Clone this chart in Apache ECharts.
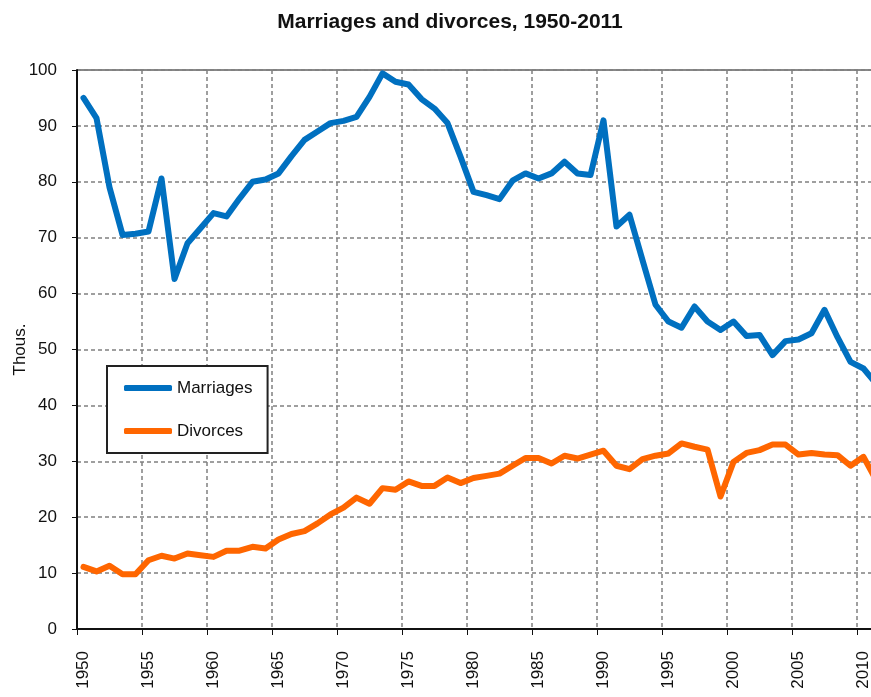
<!DOCTYPE html>
<html>
<head>
<meta charset="utf-8">
<title>Marriages and divorces, 1950-2011</title>
<script src="https://cdn.jsdelivr.net/npm/echarts@6/dist/echarts.min.js"></script>
<style>
  html, body { margin: 0; padding: 0; background: #fff; overflow: hidden; }
  #wrap { width: 871px; height: 697px; overflow: hidden; }
  #chart { width: 883px; height: 697px; }
</style>
</head>
<body>
<div id="wrap"><div id="chart"></div></div>
<script>
// years 1950..2011
var years = [];
for (var y = 1950; y <= 2011; y++) years.push(String(y));

// thousands
var marriages = [
  95.0, 91.4, 79.0, 70.5, 70.7, 71.1, 80.6, 62.6, 69.0, 71.7,
  74.4, 73.8, 77.0, 80.0, 80.4, 81.5, 84.6, 87.5, 89.0, 90.5,
  90.9, 91.6, 95.2, 99.4, 97.9, 97.4, 94.8, 93.1, 90.5, 84.5,
  78.2, 77.6, 76.9, 80.2, 81.5, 80.6, 81.5, 83.6, 81.5, 81.2,
  91.0, 72.0, 74.1, 66.0, 58.0, 55.0, 53.9, 57.7, 55.0, 53.5,
  55.0, 52.4, 52.6, 49.0, 51.5, 51.8, 52.9, 57.1, 52.2, 47.8,
  46.6, 43.8
];
var divorces = [
  11.1, 10.3, 11.3, 9.8, 9.8, 12.3, 13.1, 12.6, 13.5, 13.2,
  12.9, 14.0, 14.0, 14.7, 14.4, 16.0, 17.0, 17.5, 18.9, 20.5,
  21.7, 23.5, 22.4, 25.2, 24.9, 26.4, 25.6, 25.6, 27.1, 26.1,
  27.0, 27.4, 27.8, 29.2, 30.6, 30.6, 29.6, 31.0, 30.5, 31.2,
  31.9, 29.2, 28.6, 30.4, 31.0, 31.4, 33.2, 32.6, 32.1, 23.7,
  29.9, 31.5, 32.0, 33.0, 33.0, 31.2, 31.5, 31.2, 31.1, 29.2,
  30.8, 26.5
];

var chart = echarts.init(document.getElementById('chart'));
var font = 'Arial, "Liberation Sans", sans-serif';

var option = {
  animation: false,
  textStyle: { fontFamily: font },
  title: {
    text: 'Marriages and divorces, 1950-2011',
    left: 445,
    top: 7,
    textAlign: 'center',
    textStyle: { fontSize: 21, fontWeight: 'bold', color: '#111', fontFamily: font }
  },
  legend: {
    orient: 'vertical',
    left: 107,
    top: 366,
    padding: [12, 15, 12, 17],
    itemGap: 23,
    itemWidth: 48,
    itemHeight: 6,
    itemTextGap: 6,
    icon: 'roundRect',
    backgroundColor: '#fff',
    borderColor: '#222',
    borderWidth: 2,
    borderRadius: 0,
    textStyle: { fontSize: 17, color: '#111', lineHeight: 20, fontFamily: font },
    data: ['Marriages', 'Divorces']
  },
  grid: {
    left: 77,
    top: 70,
    right: 0,
    bottom: 68,
    show: true,
    borderColor: '#111',
    borderWidth: 1,
    containLabel: false,
    outerBoundsMode: 'none'
  },
  xAxis: {
    type: 'category',
    data: years,
    boundaryGap: true,
    axisLine: { lineStyle: { color: '#111', width: 2 } },
    axisTick: { show: true, interval: 4, length: 6, inside: false, lineStyle: { color: '#111' } },
    axisLabel: { interval: 4, rotate: 90, fontSize: 17, color: '#111', margin: 22, fontFamily: font },
    splitLine: { show: true, interval: 4, lineStyle: { color: '#808080', type: [4, 3], width: 1.5 } }
  },
  yAxis: {
    type: 'value',
    min: 0,
    max: 100,
    interval: 10,
    name: 'Thous.',
    nameLocation: 'middle',
    nameGap: 48,
    nameMoveOverlap: false,
    nameTextStyle: { fontSize: 17, color: '#111', fontFamily: font },
    axisLine: { show: true, lineStyle: { color: '#111', width: 2 } },
    axisTick: { show: true, length: 5, lineStyle: { color: '#111' } },
    axisLabel: { fontSize: 17, color: '#111', margin: 20, fontFamily: font },
    splitLine: { show: true, lineStyle: { color: '#808080', type: [4, 3], width: 1.5 } }
  },
  series: [
    {
      name: 'Marriages',
      type: 'line',
      data: marriages,
      showSymbol: false,
      symbol: 'none',
      color: '#0070C0',
      lineStyle: { width: 6, color: '#0070C0', cap: 'round', join: 'round' },
      z: 3
    },
    {
      name: 'Divorces',
      type: 'line',
      data: divorces,
      showSymbol: false,
      symbol: 'none',
      color: '#FF6600',
      lineStyle: { width: 6, color: '#FF6600', cap: 'round', join: 'round' },
      z: 3
    }
  ]
};

chart.setOption(option);
</script>
</body>
</html>
